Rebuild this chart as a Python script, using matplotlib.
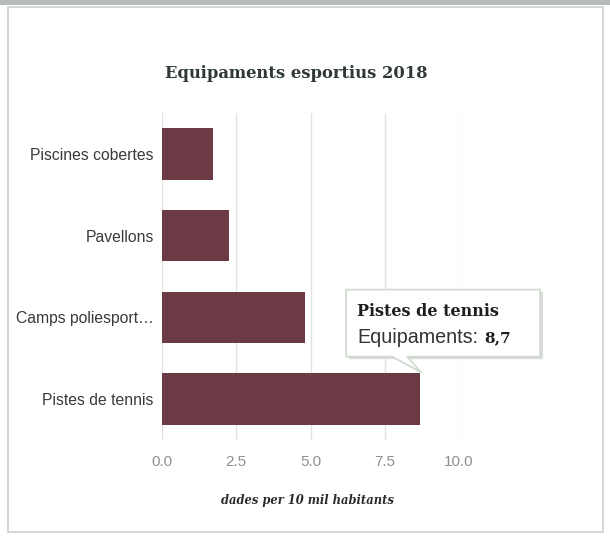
import matplotlib.pyplot as plt
from matplotlib.patches import Polygon, Rectangle

categories = ["Piscines cobertes", "Pavellons", "Camps poliesport…", "Pistes de tennis"]
values = [1.7, 2.25, 4.8, 8.7]
ticks = [0.0, 2.5, 5.0, 7.5, 10.0]
tick_labels = ["0.0", "2.5", "5.0", "7.5", "10.0"]

bar_color = "#6c3a44"

fig = plt.figure(figsize=(6.1, 5.38), dpi=100)
ax = fig.add_axes([0.2656, 0.182, 0.4869, 0.608])

ax.barh(range(len(categories)), values, height=0.63, color=bar_color, zorder=2)
ax.set_ylim(3.5, -0.5)
ax.set_xlim(0, 10)

ax.set_yticks(range(len(categories)))
ax.set_yticklabels(categories, fontsize=11.3, color="#3a3a3a", family="Liberation Sans")
ax.set_xticks(ticks)
ax.set_xticklabels(tick_labels, fontsize=11, color="#909090", family="Liberation Sans")
ax.tick_params(length=0, pad=6)
ax.tick_params(axis="x", pad=11)

ax.grid(axis="x", color="#e2e2e2", linewidth=1, zorder=0)
for s in ax.spines.values():
    s.set_visible(False)

fig.text(0.485, 0.864, "Equipaments esportius 2018", ha="center", va="center",
         fontsize=11.8, fontweight="heavy", family="DejaVu Serif", color="#2f3a35")
fig.text(0.504, 0.07, "dades per 10 mil habitants", ha="center", va="center",
         fontsize=8.3, fontweight="bold", style="italic", family="DejaVu Serif",
         color="#2b2b2b")

# tooltip
box = [(6.2, 1.66), (12.73, 1.66), (12.73, 2.48), (8.25, 2.48),
       (8.72, 2.67), (7.75, 2.48), (6.2, 2.48)]
shadow = [(x + 0.1, y + 0.03) for x, y in box]
ax.add_patch(Polygon(shadow, closed=True, facecolor="#dcdcdc", edgecolor="none",
                     clip_on=False, zorder=4))
ax.add_patch(Polygon(box, closed=True, facecolor="white", edgecolor="#cfdacf",
                     linewidth=1.2, clip_on=False, zorder=5))
ax.text(6.57, 1.93, "Pistes de tennis", fontsize=11.5, fontweight="heavy",
        family="DejaVu Serif", color="#1e1e1e", va="center", zorder=6, clip_on=False)
ax.text(6.57, 2.24, "Equipaments:", fontsize=14.2, family="Liberation Sans",
        color="#333333", va="center", zorder=6, clip_on=False)
ax.text(10.85, 2.25, "8,7", fontsize=11, fontweight="heavy", family="DejaVu Serif",
        color="#1e1e1e", va="center", zorder=6, clip_on=False)

# outer frame
fig.patches.append(Rectangle((0.013, 0.012), 0.975, 0.975, transform=fig.transFigure,
                             fill=False, edgecolor="#d0d0d0", linewidth=1.2))
fig.patches.append(Rectangle((0, 0.991), 1, 0.009, transform=fig.transFigure,
                             facecolor="#b8bcb8", edgecolor="none"))

fig.savefig("out.png", dpi=100)
